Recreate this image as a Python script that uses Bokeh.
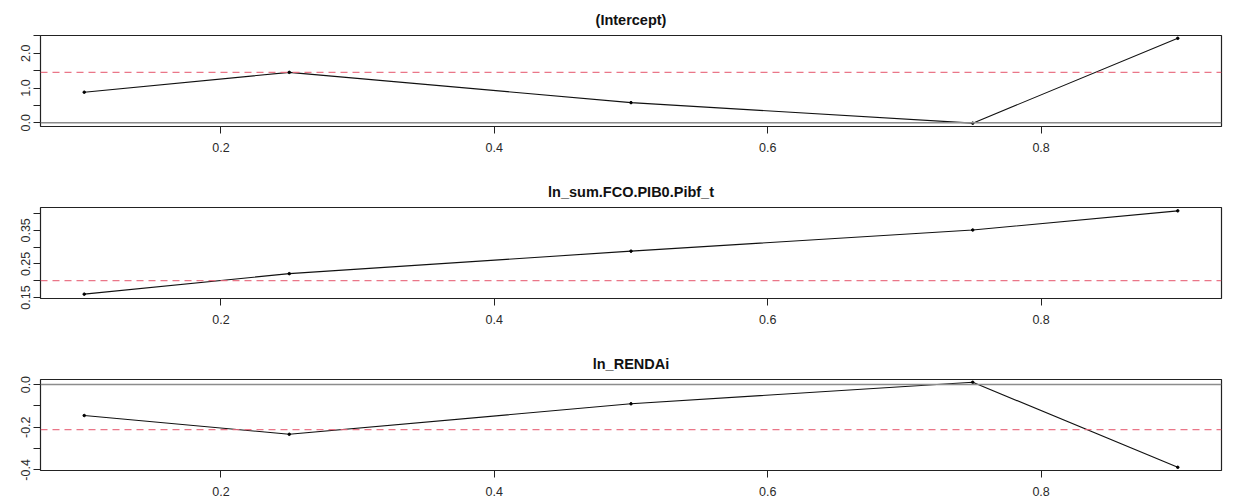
from bokeh.plotting import figure
from bokeh.layouts import column
from bokeh.models import FixedTicker, Range1d, Span
from bokeh.embed import file_html
from bokeh.resources import INLINE

taus = [0.1, 0.25, 0.5, 0.75, 0.9]

titles = ["(Intercept)", "ln_sum.FCO.PIB0.Pibf_t", "ln_RENDAi"]
coef_intercept = [0.88, 1.45, 0.58, -0.01, 2.43]
coef_fco = [0.160, 0.221, 0.288, 0.351, 0.408]
coef_renda = [-0.145, -0.233, -0.090, 0.011, -0.388]
ols_values = [1.45, 0.200, -0.211]

y_ticks = [[0.0, 0.5, 1.0, 1.5, 2.0, 2.5],
           [0.15, 0.20, 0.25, 0.30, 0.35, 0.40],
           [-0.4, -0.3, -0.2, -0.1, 0.0]]
y_labels = [{0.0: "0.0", 0.5: "", 1.0: "1.0", 1.5: "", 2.0: "2.0", 2.5: ""},
            {0.15: "0.15", 0.20: "", 0.25: "0.25", 0.30: "", 0.35: "0.35", 0.40: ""},
            {-0.4: "-0.4", -0.3: "", -0.2: "-0.2", -0.1: "", 0.0: "0.0"}]
y_ranges = [(-0.106, 2.51), (0.147, 0.418), (-0.403, 0.024)]
x_ticks = [0.2, 0.4, 0.6, 0.8]

series = [coef_intercept, coef_fco, coef_renda]

FONT = "Liberation Sans"
figs = []
heights = [172, 172, 156]
for i in range(3):
    vals = series[i]
    h = heights[i]
    p = figure(width=1247, height=h, output_backend="svg", toolbar_location=None,
               x_range=Range1d(0.1 - 0.8 * 0.04, 0.9 + 0.8 * 0.04),
               y_range=Range1d(*y_ranges[i]),
               min_border_left=40, min_border_right=26,
               min_border_top=35, min_border_bottom=h - 35 - 91)
    p.title.text = titles[i]
    p.title.align = "center"
    p.title.text_font = FONT
    p.title.text_font_size = "14.5px"
    p.title.text_font_style = "bold"
    p.title.text_color = "#111111"
    p.title.standoff = 16
    p.xgrid.visible = False
    p.ygrid.visible = False
    p.outline_line_color = "#222222"
    p.outline_line_width = 1.2
    p.background_fill_color = "white"
    p.border_fill_color = "white"

    for ax in (p.xaxis[0], p.yaxis[0]):
        ax.axis_line_color = None
        ax.major_tick_out = 7
        ax.major_tick_in = 0
        ax.minor_tick_line_color = None
        ax.major_tick_line_color = "#222222"
        ax.major_label_text_font = FONT
        ax.major_label_text_font_size = "12.5px"
        ax.major_label_text_color = "#2a2a2a"
    p.xaxis[0].ticker = FixedTicker(ticks=x_ticks)
    p.xaxis[0].major_label_standoff = 9
    p.yaxis[0].ticker = FixedTicker(ticks=y_ticks[i])
    p.yaxis[0].major_label_overrides = y_labels[i]
    p.yaxis[0].major_label_orientation = "vertical"
    p.yaxis[0].major_label_standoff = 3

    if i != 1:
        p.add_layout(Span(location=0, dimension="width", line_color="#8c8c8c", line_width=1.5))
    p.add_layout(Span(location=ols_values[i], dimension="width", line_color="#E8677B",
                      line_width=1.2, line_dash="7 5", line_alpha=0.9))
    p.line(taus, vals, line_color="#111111", line_width=1.1)
    p.scatter(taus, vals, size=2.5, marker="circle", color="#000000")
    figs.append(p)

layout = column(*figs, spacing=0)
open("out.html", "w").write(file_html(layout, INLINE))
